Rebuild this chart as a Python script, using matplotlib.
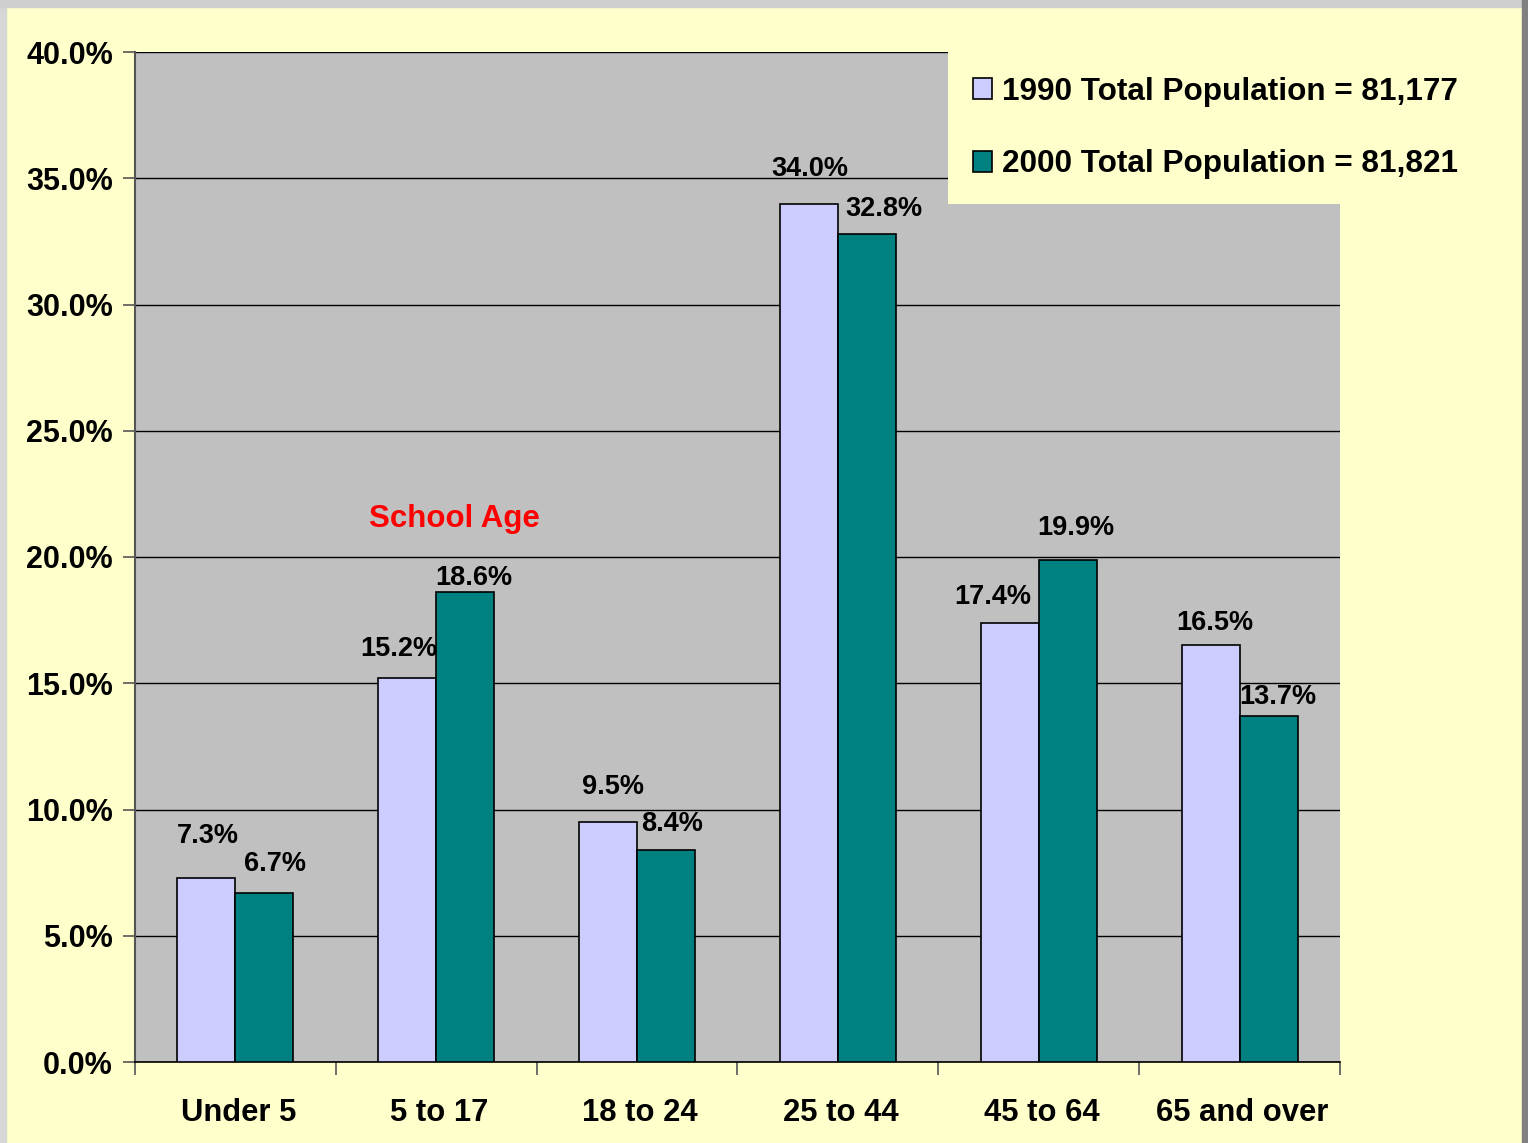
import numpy as np
import matplotlib.pyplot as plt
from matplotlib.patches import Rectangle

plt.rcParams['font.family'] = ['Liberation Sans', 'DejaVu Sans']
plt.rcParams['font.weight'] = 'bold'

categories = ["Under 5", "5 to 17", "18 to 24", "25 to 44", "45 to 64", "65 and over"]
pop_1990 = [7.3, 15.2, 9.5, 34.0, 17.4, 16.5]
pop_2000 = [6.7, 18.6, 8.4, 32.8, 19.9, 13.7]
label_1990 = "1990 Total Population = 81,177"
label_2000 = "2000 Total Population = 81,821"

# label nudges in pixels (dx, dy above bar top), as placed in the original
nudge_1990 = [(1, 42), (-8, 29), (5, 35), (1, 35), (-17, 26), (4, 22)]
nudge_2000 = [(11, 29), (9, 14), (6, 26), (17, 25), (8, 32), (9, 19)]

W, H = 1528, 1143
fig = plt.figure(figsize=(W / 100, H / 100), dpi=100, facecolor="#FFFFCC")

# window-like border strips
fig.patches.append(Rectangle((0, 0), 6 / W, 1, transform=fig.transFigure, color="#D6D6D6", zorder=0))
fig.patches.append(Rectangle((0, 1 - 7 / H), 1, 7 / H, transform=fig.transFigure, color="#CFCFCF", zorder=0))
fig.patches.append(Rectangle((1 - 6 / W, 0), 6 / W, 1, transform=fig.transFigure, color="#808080", zorder=0))

ax = fig.add_axes([135 / W, 1 - 1062 / H, (1340 - 135) / W, (1062 - 52) / H])
ax.set_facecolor("#C0C0C0")

x = np.arange(len(categories))
w = 0.289
b1 = ax.bar(x - w / 2, pop_1990, w, color="#CCCCFF", edgecolor="black", linewidth=1.2,
            label=label_1990, zorder=3)
b2 = ax.bar(x + w / 2, pop_2000, w, color="#008080", edgecolor="black", linewidth=1.2,
            label=label_2000, zorder=3)

for bars, vals, nudges in [(b1, pop_1990, nudge_1990), (b2, pop_2000, nudge_2000)]:
    for bar, v, (dx, dy) in zip(bars, vals, nudges):
        ax.annotate(f"{v:.1f}%", (bar.get_x() + bar.get_width() / 2, v),
                    xytext=(dx, dy), textcoords="offset pixels",
                    ha="center", va="center", fontsize=19.5, fontweight="bold", zorder=5)

ax.text(1.09, 21.5, "School Age", color="#FF0000", fontsize=22.5, fontweight="bold",
        ha="center", va="center", zorder=5)

ax.set_xlim(-0.5, 5.5)
ax.set_ylim(0, 40)
ax.set_yticks(np.arange(0, 41, 5))
ax.set_yticklabels([f"{t:.1f}%" for t in np.arange(0, 41, 5)], fontsize=22, fontweight="bold")
ax.set_xticks(x + 0.015)
ax.set_xticklabels(categories, fontsize=22.3, fontweight="bold")
ax.set_xticks(np.arange(-0.5, 6, 1), minor=True)
ax.tick_params(axis="x", which="major", length=0, pad=26)
ax.tick_params(axis="x", which="minor", length=9, color="#555555", width=1.2)
ax.tick_params(axis="y", length=9, color="#555555", width=1.2, pad=7)

ax.yaxis.grid(True, color="black", linewidth=1, zorder=1)
ax.set_axisbelow(True)
for s in ["top", "right"]:
    ax.spines[s].set_visible(False)
ax.spines["left"].set_color("#555555")
ax.spines["left"].set_linewidth(1.5)
ax.spines["bottom"].set_color("black")
ax.spines["bottom"].set_linewidth(1.2)

leg = ax.legend(loc="upper left", bbox_to_anchor=((948 - 135) / (1340 - 135), 1.0),
                prop={"size": 22.7, "weight": "bold"}, frameon=True, fancybox=False,
                facecolor="#FFFFCC", edgecolor="none", framealpha=1,
                handlelength=0.62, handleheight=0.62, handletextpad=0.3,
                borderpad=0.78, borderaxespad=0, labelspacing=1.36)
leg.set_zorder(10)

fig.savefig("out.png", dpi=100, facecolor=fig.get_facecolor())
